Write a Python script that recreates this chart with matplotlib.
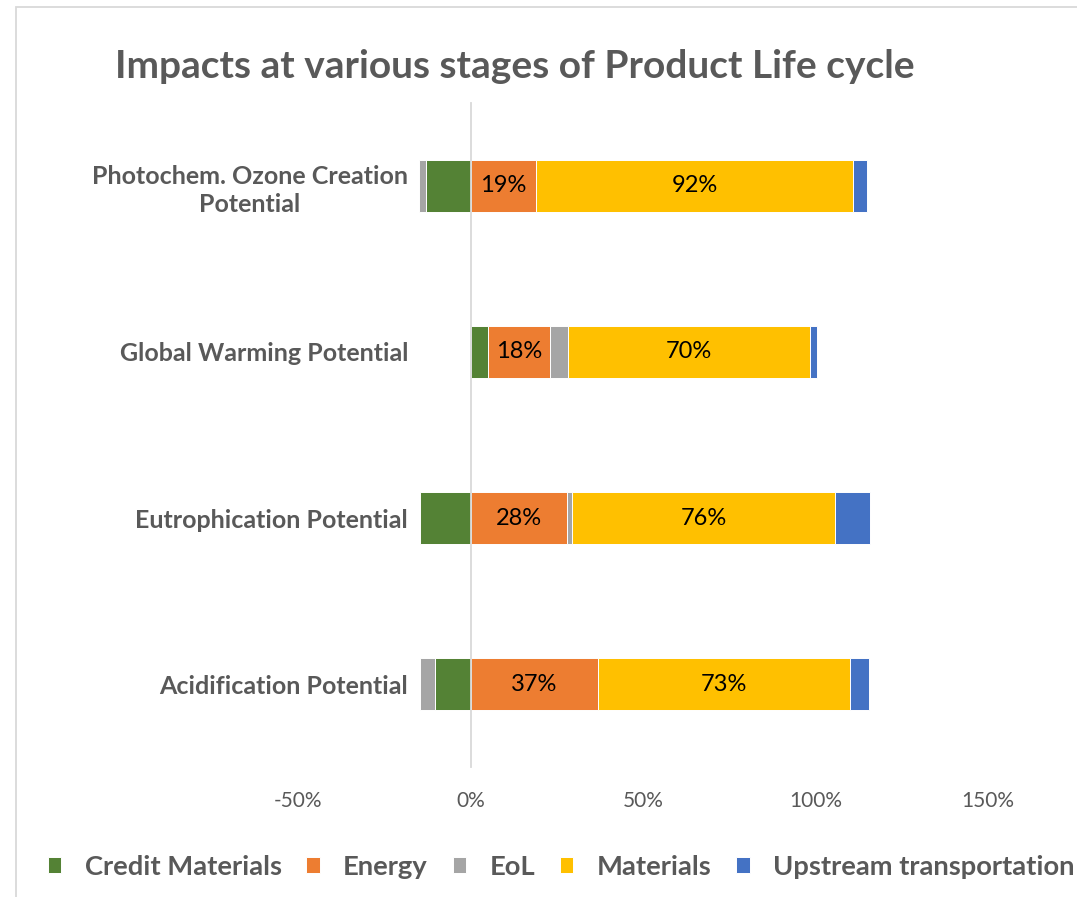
import matplotlib
matplotlib.use("Agg")
import matplotlib.pyplot as plt
from matplotlib.patches import Rectangle
import numpy as np

plt.rcParams['font.family'] = ['Lato', 'DejaVu Sans']

# categories, listed top to bottom as in the chart
categories = ['Photochem. Ozone Creation\nPotential', 'Global Warming Potential',
              'Eutrophication Potential', 'Acidification Potential']

series = ['Credit Materials', 'Energy', 'EoL', 'Materials', 'Upstream transportation']
credit_materials = [-0.129, 0.05, -0.147, -0.104]
energy = [0.19, 0.18, 0.28, 0.37]
eol = [-0.019, 0.054, 0.015, -0.043]
materials = [0.92, 0.70, 0.76, 0.73]
upstream = [0.04, 0.02, 0.104, 0.055]
colors = ['#548235', '#ED7D31', '#A5A5A5', '#FFC000', '#4472C4']
labelled = ['Energy', 'Materials']

txt = '#595959'

fig = plt.figure(figsize=(10.77, 8.97), dpi=100)
ax = fig.add_axes([0.2767, 0.1449, 0.6407, 0.7403])

# spine at x=0 first (it resets the ticks)
for s in ['top', 'right', 'bottom']:
    ax.spines[s].set_visible(False)
ax.spines['left'].set_position(('data', 0))
ax.spines['left'].set_color('#D9D9D9')
ax.spines['left'].set_linewidth(1.3)

y = np.arange(len(categories))
pos = np.zeros(len(categories))
neg = np.zeros(len(categories))
for name, vals, c in zip(series, [credit_materials, energy, eol, materials, upstream], colors):
    vals = np.array(vals)
    left = np.where(vals >= 0, pos, neg)
    bars = ax.barh(y, vals, left=left, height=0.31, color=c, edgecolor='white',
                   linewidth=0.7, label=name)
    pos = pos + np.where(vals >= 0, vals, 0)
    neg = neg + np.where(vals < 0, vals, 0)
    if name in labelled:
        ax.bar_label(bars, labels=['{:.0f}%'.format(v * 100) for v in vals],
                     label_type='center', fontsize=17, color='black')

ax.set_xlim(-0.5, 1.5)
ax.set_ylim(len(categories) - 0.5, -0.5)
ax.set_xticks([-0.5, 0, 0.5, 1.0, 1.5])
ax.set_xticklabels(['-50%', '0%', '50%', '100%', '150%'])
ax.set_yticks(y)
ax.set_yticklabels(categories, fontweight='bold', multialignment='center', linespacing=1.25)
ax.tick_params(axis='y', length=0, pad=45, labelsize=18, labelcolor=txt)
ax.tick_params(axis='x', length=0, pad=17, labelsize=15, labelcolor=txt)

fig.text(0.107, 0.926, 'Impacts at various stages of Product Life cycle',
         fontsize=28, fontweight='bold', color=txt, va='center', ha='left')

leg = fig.legend(loc='center', bbox_to_anchor=(0.521, 0.034), ncol=5, frameon=False,
                 fontsize=19.7, handlelength=0.5, handleheight=0.5, columnspacing=0.9,
                 handletextpad=0.85)
for t in leg.get_texts():
    t.set_fontweight('bold')
    t.set_color(txt)

# chart border (cropped on right and bottom)
fig.patches.append(Rectangle((16 / 1077, -0.1), 1.2, 1 - 7 / 897 + 0.1,
                             transform=fig.transFigure, fill=False,
                             edgecolor='#D9D9D9', linewidth=1.3))

fig.savefig('out.png', dpi=100)
